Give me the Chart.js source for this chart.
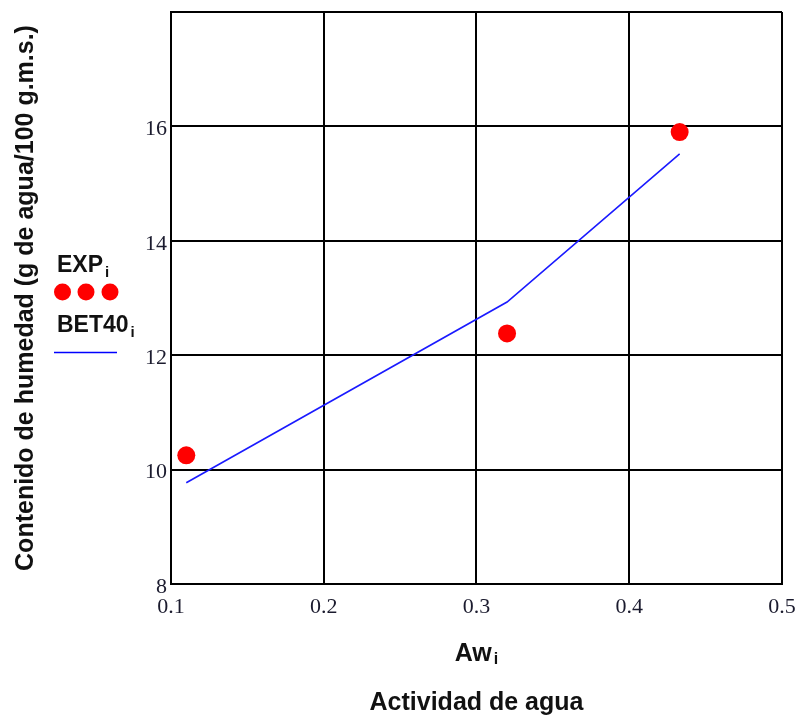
<!DOCTYPE html>
<html>
<head>
<meta charset="utf-8">
<script src="https://cdn.jsdelivr.net/npm/chart.js@4.4.1/dist/chart.umd.min.js"></script>
<style>
  html, body { margin: 0; padding: 0; background: #ffffff; }
  #wrap { width: 803px; height: 716px; }
</style>
</head>
<body>
<div id="wrap"><canvas id="c" width="803" height="716"></canvas></div>
<script>
// Water activity of each sample (Aw_i)
const aw = [0.11, 0.32, 0.433];
// Experimental moisture content (g water / 100 g dry matter)
const expValues = [10.25, 12.38, 15.9];
// BET model at 40 °C evaluated at the same Aw_i
const bet40Values = [9.77, 12.93, 15.52];

const xTicks = [0.1, 0.2, 0.3, 0.4, 0.5];
const yTicks = [8, 10, 12, 14, 16];

const SANS = '"Liberation Sans", Arial, sans-serif';
const axisFont = 'bold 25px ' + SANS;
const legendFont = 'bold 23px ' + SANS;

// Draws "base" followed by a lowered subscript, starting at x; returns total width
function textWithSub(ctx, base, sub, x, y, font, subSize, drop) {
  ctx.textAlign = 'left';
  ctx.textBaseline = 'alphabetic';
  ctx.font = font;
  ctx.fillText(base, x, y);
  const w = ctx.measureText(base).width;
  ctx.font = 'bold ' + subSize + 'px ' + SANS;
  ctx.fillText(sub, x + w + 2, y + drop);
  return w + 2 + ctx.measureText(sub).width;
}

function measureWithSub(ctx, base, sub, font, subSize) {
  ctx.font = font;
  const w = ctx.measureText(base).width;
  ctx.font = 'bold ' + subSize + 'px ' + SANS;
  return w + 2 + ctx.measureText(sub).width;
}

const annotations = {
  id: 'annotations',
  afterDraw(chart) {
    const ctx = chart.ctx;
    const area = chart.chartArea;
    ctx.save();
    ctx.fillStyle = '#111111';

    // Y axis title
    ctx.save();
    ctx.translate(26, (area.top + area.bottom) / 2);
    ctx.rotate(-Math.PI / 2);
    ctx.font = axisFont;
    ctx.textAlign = 'center';
    ctx.textBaseline = 'middle';
    ctx.fillText('Contenido de humedad (g de agua/100 g.m.s.)', 0, 0);
    ctx.restore();

    // X axis titles
    const cx = (area.left + area.right) / 2;
    const awW = measureWithSub(ctx, 'Aw', 'i', axisFont, 16);
    textWithSub(ctx, 'Aw', 'i', cx - awW / 2, 661, axisFont, 16, 3);
    ctx.font = axisFont;
    ctx.textAlign = 'center';
    ctx.fillText('Actividad de agua', cx, 710);

    // Legend
    textWithSub(ctx, 'EXP', 'i', 57, 272, legendFont, 15, 5);
    ctx.fillStyle = '#ff0000';
    [62.5, 86, 110].forEach(px => {
      ctx.beginPath();
      ctx.arc(px, 292, 8.5, 0, Math.PI * 2);
      ctx.fill();
    });
    ctx.fillStyle = '#111111';
    textWithSub(ctx, 'BET40', 'i', 57, 332, legendFont, 15, 5);
    ctx.strokeStyle = '#0000ff';
    ctx.lineWidth = 1.5;
    ctx.beginPath();
    ctx.moveTo(54, 352.5);
    ctx.lineTo(117, 352.5);
    ctx.stroke();

    ctx.restore();
  }
};

new Chart(document.getElementById('c'), {
  type: 'scatter',
  data: {
    datasets: [
      {
        label: 'BET40',
        data: aw.map((x, i) => ({ x: x, y: bet40Values[i] })),
        showLine: true,
        borderColor: '#1a1aff',
        borderWidth: 1.6,
        pointRadius: 0,
        pointHoverRadius: 0,
        tension: 0,
        order: 2
      },
      {
        label: 'EXP',
        data: aw.map((x, i) => ({ x: x, y: expValues[i] })),
        showLine: false,
        backgroundColor: '#ff0000',
        borderColor: '#ff0000',
        pointRadius: 9,
        borderWidth: 0,
        order: 1
      }
    ]
  },
  options: {
    responsive: false,
    devicePixelRatio: 1,
    animation: false,
    clip: false,
    layout: { padding: { left: 0, top: 12, right: 21, bottom: 0 } },
    plugins: {
      legend: { display: false },
      tooltip: { enabled: false }
    },
    scales: {
      x: {
        type: 'linear',
        min: 0.1,
        max: 0.5,
        afterBuildTicks(scale) { scale.ticks = xTicks.map(v => ({ value: v })); },
        afterFit(scale) {
          scale.height = 132;
          scale.paddingLeft = 0;
          scale.paddingRight = 0;
        },
        grid: { color: '#000000', lineWidth: 2, drawTicks: false },
        border: { display: true, color: '#000000', width: 2 },
        ticks: {
          padding: 10,
          color: '#1b1b2e',
          font: { family: '"Liberation Serif", "Times New Roman", serif', size: 22 },
          callback: v => v.toFixed(1)
        }
      },
      y: {
        type: 'linear',
        min: 8,
        max: 18,
        afterBuildTicks(scale) { scale.ticks = yTicks.concat([18]).map(v => ({ value: v })); },
        afterFit(scale) {
          scale.width = 171;
          scale.paddingTop = 0;
          scale.paddingBottom = 0;
        },
        grid: { color: '#000000', lineWidth: 2, drawTicks: false },
        border: { display: true, color: '#000000', width: 2 },
        ticks: {
          padding: 4,
          labelOffset: 3,
          color: '#1b1b2e',
          font: { family: '"Liberation Serif", "Times New Roman", serif', size: 22 },
          callback: v => (yTicks.includes(v) ? String(v) : '')
        }
      }
    }
  },
  plugins: [annotations]
});
</script>
</body>
</html>
